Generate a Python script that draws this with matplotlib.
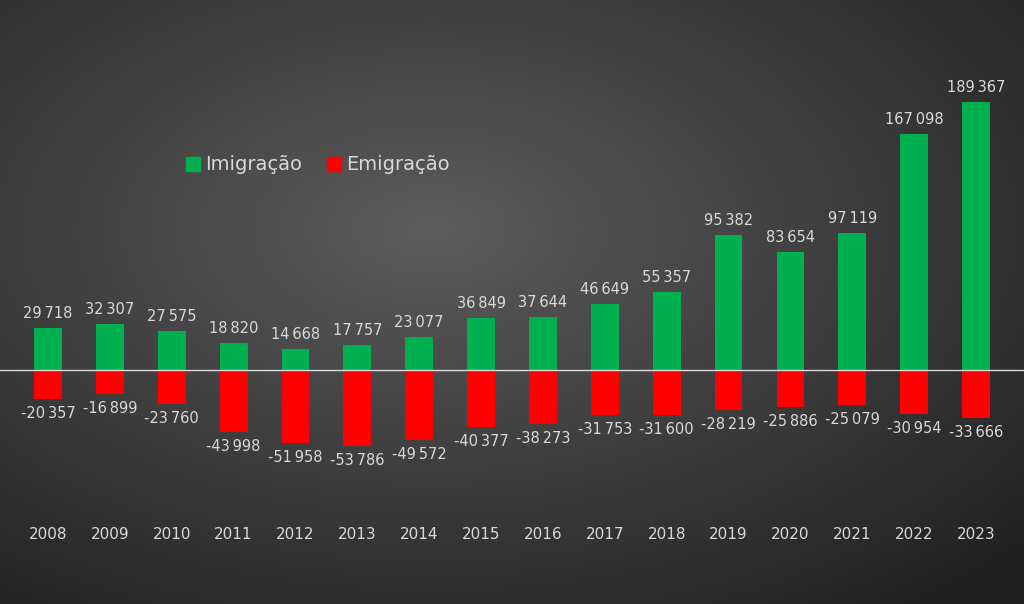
import numpy as np
import matplotlib.pyplot as plt
from matplotlib.patches import Rectangle

years = list(range(2008, 2024))
imigracao = [29718, 32307, 27575, 18820, 14668, 17757, 23077, 36849, 37644, 46649, 55357, 95382, 83654, 97119, 167098, 189367]
emigracao = [-20357, -16899, -23760, -43998, -51958, -53786, -49572, -40377, -38273, -31753, -31600, -28219, -25886, -25079, -30954, -33666]

def fmt(v):
    return f"{v:,}".replace(",", "\u202f")

fig = plt.figure(figsize=(10.24, 6.04), dpi=100)
ax = fig.add_axes([0, 0, 1, 1])
x0, x1 = -0.776, 15.775
y0, y1 = -165400, 261500
ax.set_xlim(x0, x1)
ax.set_ylim(y0, y1)
ax.axis("off")

# radial gradient background
gx, gy = np.meshgrid(np.linspace(0, 1, 400), np.linspace(0, 1, 240))
r = np.sqrt(((gx - 0.42) / 0.75) ** 2 + ((gy - 0.62) / 0.75) ** 2)
g = np.clip(0.36 - 0.22 * r, 0.13, 0.36)
ax.imshow(np.dstack([g, g, g]), extent=[x0, x1, y0, y1], aspect="auto", zorder=0, origin="lower")

x = np.arange(len(years))
w = 0.45
ax.bar(x, imigracao, width=w, color="#00b050", zorder=2)
ax.bar(x, emigracao, width=w, color="#ff0000", zorder=2)
ax.axhline(0, color="#d9d9d9", lw=1, zorder=3)

tc = "#d9d9d9"
for i in range(len(years)):
    ax.annotate(fmt(imigracao[i]), (x[i], imigracao[i]), xytext=(0, 5), textcoords="offset points",
                ha="center", va="bottom", color=tc, fontsize=10.5)
    ax.annotate(fmt(emigracao[i]), (x[i], emigracao[i]), xytext=(0, -5), textcoords="offset points",
                ha="center", va="top", color=tc, fontsize=10.5)
    ax.text(x[i], -116600, str(years[i]), ha="center", va="center", color=tc, fontsize=11)

# legend
fig.patches.append(Rectangle((186/1024, 1-171/604), 14/1024, 14/604, transform=fig.transFigure, color="#00b050"))
fig.text(205/1024, 1-164/604, "Imigração", color=tc, fontsize=14, va="center")
fig.patches.append(Rectangle((327/1024, 1-171/604), 14/1024, 14/604, transform=fig.transFigure, color="#ff0000"))
fig.text(346/1024, 1-164/604, "Emigração", color=tc, fontsize=14, va="center")

fig.savefig("out.png", dpi=100)
